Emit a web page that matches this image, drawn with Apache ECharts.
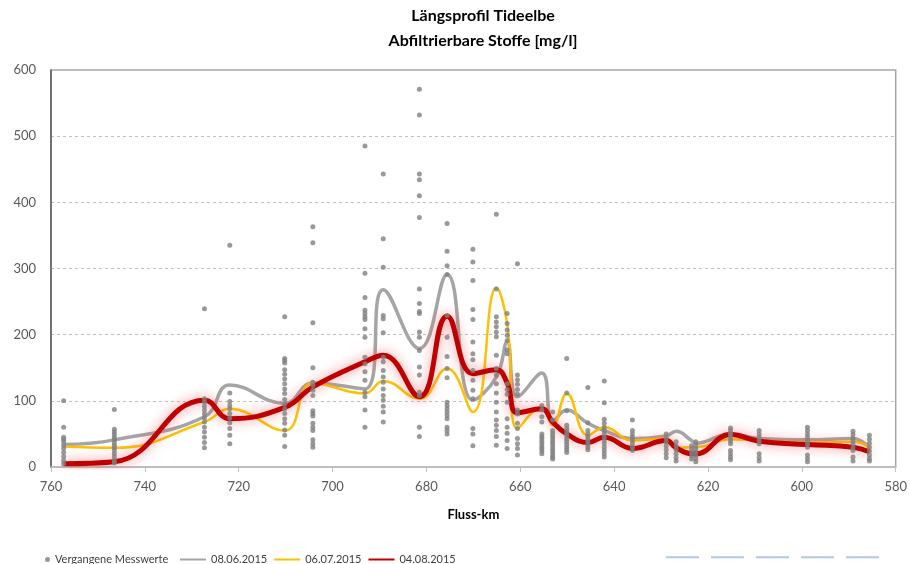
<!DOCTYPE html>
<html>
<head>
<meta charset="utf-8">
<title>Längsprofil Tideelbe</title>
<script src="https://cdn.jsdelivr.net/npm/echarts@6/dist/echarts.min.js"></script>
<style>
  html, body { margin: 0; padding: 0; background: #fff; }
  #chart { width: 910px; height: 564px; }
</style>
</head>
<body>
<div id="chart"></div>
<script>
// Messstationen (Fluss-km), von links nach rechts
const stationKm = [757.3, 746.5, 727.3, 721.9, 710.2, 704.2, 693.1, 689.2, 681.5, 675.6,
  670.1, 665.1, 662.8, 660.6, 655.4, 653.1, 650.1, 645.6, 642.1, 636.1,
  628.9, 626.8, 623.5, 622.6, 615.2, 609.1, 598.8, 589.1, 585.6];

// vergangene Messwerte je Station (mg/l)
const pastValues = [
  [100, 60, 45, 42, 38, 33, 28, 22, 16, 10, 5],
  [87, 57, 53, 49, 45, 41, 37, 33, 29, 25, 20, 15, 10, 6],
  [239, 103, 98, 92, 86, 80, 74, 68, 60, 53, 45, 37, 29],
  [335, 112, 99, 93, 88, 81, 74, 67, 58, 48, 35],
  [227, 164, 161, 157, 147, 140, 133, 126, 118, 111, 102, 95, 88, 81, 73, 66, 56, 48, 31],
  [363, 339, 218, 150, 128, 123, 116, 108, 85, 81, 77, 66, 60, 55, 41, 35, 30],
  [485, 293, 256, 237, 232, 227, 223, 209, 196, 166, 156, 144, 131, 113, 106, 86, 60],
  [443, 345, 302, 229, 224, 203, 166, 159, 146, 136, 128, 118, 108, 101, 92, 83, 68],
  [571, 532, 443, 434, 410, 377, 269, 247, 235, 232, 204, 196, 176, 151, 139, 113, 108, 60, 46],
  [368, 326, 304, 291, 229, 196, 167, 149, 135, 98, 93, 88, 83, 78, 73, 60, 55, 50],
  [329, 310, 282, 238, 223, 189, 171, 162, 146, 131, 116, 103, 58, 50, 32],
  [382, 269, 227, 219, 212, 204, 197, 169, 149, 139, 126, 112, 98, 83, 71, 63, 55, 46, 33],
  [232, 217, 207, 199, 191, 177, 171, 126, 117, 110, 98, 73, 60, 51, 40, 28],
  [307, 139, 132, 125, 117, 110, 86, 80, 66, 58, 43, 35, 28, 18],
  [93, 86, 76, 68, 50, 46, 43, 39, 35, 31, 28, 24, 20],
  [83, 71, 55, 51, 47, 43, 39, 35, 31, 27, 23, 19, 15, 12],
  [164, 112, 85, 63, 58, 54, 50, 46, 42, 38, 34, 30, 26, 22],
  [120, 67, 55, 50, 46, 42, 38, 34, 30, 26],
  [130, 97, 72, 66, 60, 55, 50, 45, 40, 35, 30, 25, 20, 15],
  [71, 55, 50, 45, 40, 35, 30, 25],
  [50, 44, 38, 32, 26, 20, 14],
  [38, 32, 26, 20, 14, 9],
  [32, 27, 22, 17, 12],
  [38, 33, 28, 23, 18, 13, 8],
  [59, 55, 51, 47, 43, 39, 35, 25, 20, 15, 11],
  [55, 50, 45, 40, 35, 20, 14, 9],
  [60, 55, 50, 45, 40, 35, 30, 18, 13, 8],
  [54, 49, 44, 39, 34, 29, 25, 15, 9],
  [48, 42, 36, 30, 24, 18, 13, 9]
];

const values0806 = [34, 41, 76, 124, 96, 127, 118, 268, 179, 291, 101, 136, 189, 106, 142,
  68, 86, 66, 55, 43, 47, 54, 40, 36, 50, 43, 41, 43, 29];
const values0607 = [31, 29, 68, 88, 55, 127, 111, 130, 103, 149, 83, 271, 217, 58, 91,
  63, 111, 48, 60, 40, 43, 29, 30, 30, 42, 40, 37, 38, 30];
const values0408 = [5, 8, 101, 73, 90, 121, 159, 169, 106, 228, 141, 147, 127, 82, 88,
  68, 50, 37, 45, 28, 40, 29, 20, 20, 49, 39, 34, 30, 23];

const FONT = "Lato, 'Open Sans', sans-serif";

const pastPoints = [];
stationKm.forEach((km, i) => {
  pastValues[i].forEach(v => pastPoints.push([km, v]));
});
const toPairs = arr => arr.map((v, i) => [stationKm[i], v]);

const legendText = { fontFamily: FONT, fontSize: 11, color: "#404040" };

const chart = echarts.init(document.getElementById("chart"));
chart.setOption({
  animation: false,
  backgroundColor: "#fff",
  title: {
    text: "Längsprofil Tideelbe\nAbfiltrierbare Stoffe [mg/l]",
    left: 478,
    textAlign: "center",
    top: -2,
    textStyle: { fontFamily: FONT, fontSize: 16, fontWeight: "bold", color: "#000", lineHeight: 25 }
  },
  grid: {
    left: 51, right: 12, top: 70, bottom: 97,
    show: true, borderColor: "#A6A6A6", borderWidth: 1.5
  },
  legend: [
    {
      data: ["Vergangene Messwerte"],
      left: 40, top: 549,
      itemWidth: 5, itemHeight: 5, icon: "circle",
      textStyle: legendText
    },
    {
      data: ["08.06.2015", "06.07.2015", "04.08.2015"],
      left: 174, top: 549,
      itemWidth: 26, itemHeight: 8, itemGap: 6,
      itemStyle: { opacity: 0 },
      textStyle: legendText
    },
    {
      data: [" "],
      left: 660, top: 549,
      itemWidth: 216, itemHeight: 8,
      itemStyle: { opacity: 0 },
      textStyle: { fontSize: 1 }
    }
  ],
  xAxis: {
    type: "value",
    inverse: true,
    min: 580, max: 760, interval: 20,
    name: "Fluss-km",
    nameLocation: "middle",
    nameGap: 41,
    nameTextStyle: { fontFamily: FONT, fontSize: 13, fontWeight: "bold", color: "#000" },
    axisLine: { show: true, lineStyle: { color: "#BFBFBF", width: 1.5 } },
    axisTick: { show: true, length: 5, lineStyle: { color: "#BFBFBF" } },
    axisLabel: { fontFamily: FONT, fontSize: 13, color: "#595959", margin: 13 },
    splitLine: { show: false }
  },
  yAxis: {
    type: "value",
    min: 0, max: 600, interval: 100,
    axisLine: { show: true, lineStyle: { color: "#595959", width: 1.5 } },
    axisTick: { show: false },
    axisLabel: { fontFamily: FONT, fontSize: 13, color: "#595959", margin: 15 },
    splitLine: { show: true, lineStyle: { color: "#BFBFBF", type: [3, 3] } }
  },
  series: [
    {
      name: "Vergangene Messwerte",
      type: "scatter",
      z: 5,
      symbolSize: 5,
      itemStyle: { color: "#7F7F7F" },
      data: pastPoints
    },
    {
      name: "08.06.2015",
      type: "line",
      smooth: 0.45,
      symbol: "none",
      z: 2,
      lineStyle: { color: "#A5A5A5", width: 3.5 },
      itemStyle: { color: "#A5A5A5" },
      data: toPairs(values0806)
    },
    {
      name: "06.07.2015",
      type: "line",
      smooth: 0.45,
      symbol: "none",
      z: 3,
      lineStyle: { color: "#FFC000", width: 2.5 },
      itemStyle: { color: "#FFC000" },
      data: toPairs(values0607)
    },
    {
      name: "04.08.2015",
      type: "line",
      smooth: 0.45,
      symbol: "none",
      z: 4,
      lineStyle: {
        color: "#C00000", width: 5,
        shadowColor: "rgba(235, 70, 70, 0.65)", shadowBlur: 12
      },
      itemStyle: { color: "#C00000" },
      data: toPairs(values0408)
    },
    {
      name: " ",
      type: "line",
      symbol: "none",
      lineStyle: { color: "#B4C7E7", width: 3, type: [33, 12] },
      itemStyle: { color: "#B4C7E7" },
      data: []
    }
  ]
});
</script>
</body>
</html>
